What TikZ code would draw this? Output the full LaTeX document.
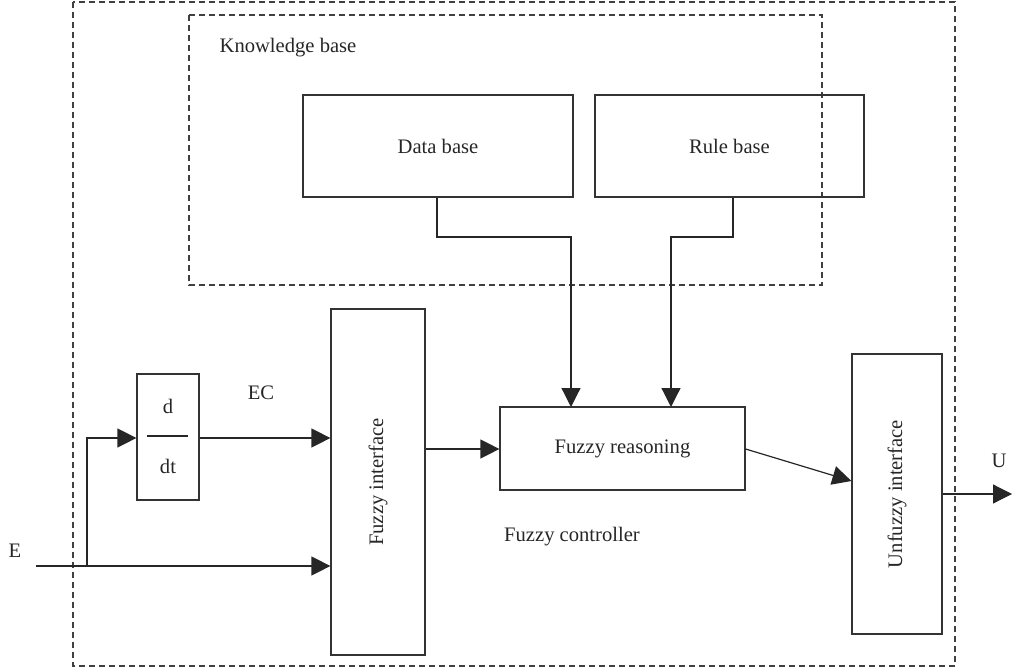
\documentclass[tikz,border=0pt]{standalone}
\usepackage{fontspec}
\setmainfont{Liberation Serif}
\usetikzlibrary{arrows.meta}
\begin{document}
\begin{tikzpicture}[x=1pt,y=-1pt,
  box/.style={draw=black!80,line width=1.2pt,inner sep=0pt},
  dbox/.style={draw=black!75,line width=1.1pt,dash pattern=on 6pt off 4pt},
  lbl/.style={font=\fontsize{20.6}{24}\selectfont,text=black!85},
  conn/.style={draw=black!85,line width=1.2pt,-{Triangle[length=19pt,width=19pt]}},
  plain/.style={draw=black!85,line width=1.2pt}]
\useasboundingbox (0,0) rectangle (1012,671);
% dashed frames
\draw[dbox] (73,2) rectangle (955,666);
\draw[dbox] (189,15) rectangle (822,285);
\node[lbl] (kb) at (288,48) {Knowledge base};
% boxes
\node[box,minimum width=270pt,minimum height=102pt] (db) at (438,146) {};
\node[lbl] at (db.center) {Data base};
\node[box,minimum width=269pt,minimum height=102pt] (rb) at (729.5,146) {};
\node[lbl] at (rb.center) {Rule base};
\node[box,minimum width=245pt,minimum height=83pt] (fr) at (622.5,448.5) {};
\node[lbl] at (fr.center) {Fuzzy reasoning};
\node[box,minimum width=94pt,minimum height=346pt] (fi) at (378,482) {};
\node[lbl,rotate=90] at (fi.center) {Fuzzy interface};
\node[box,minimum width=90pt,minimum height=280pt] (ui) at (897,494) {};
\node[lbl,rotate=90] at (ui.center) {Unfuzzy interface};
\node[box,minimum width=62pt,minimum height=126pt] (dd) at (168,437) {};
\node[lbl] (dn) at (168,406) {d};
\node[lbl] (dt) at (168,466) {dt};
\draw[plain] (147,436) -- (188,436);
% labels
\node[lbl] (ec) at (261,393) {EC};
\node[lbl] (e) at (15,551) {E};
\node[lbl] (u) at (999,461) {U};
\node[lbl] (fc) at (572,537) {Fuzzy controller};
% connectors
\coordinate (ein) at (36,566);
\coordinate (br) at (87,566);
\coordinate (uout) at (1012,494);
\draw[conn] (db.south -| 437,0) -- (437,237) -- (571,237) -- (571,407);
\draw[conn] (rb.south -| 733,0) -- (733,237) -- (671,237) -- (671,407);
\draw[conn] (ein) -- (fi.west |- ein);
\draw[conn] (br) -- (87,438) -- (dd.west |- 0,438);
\draw[conn] (dd.east |- 0,438) -- (fi.west |- 0,438);
\draw[conn] (fi.east |- 0,449) -- (fr.west |- 0,449);
\draw[conn] (fr.east |- 0,449) -- (ui.west |- 0,481);
\draw[conn] (ui.east |- uout) -- (uout);
\end{tikzpicture}
\end{document}
